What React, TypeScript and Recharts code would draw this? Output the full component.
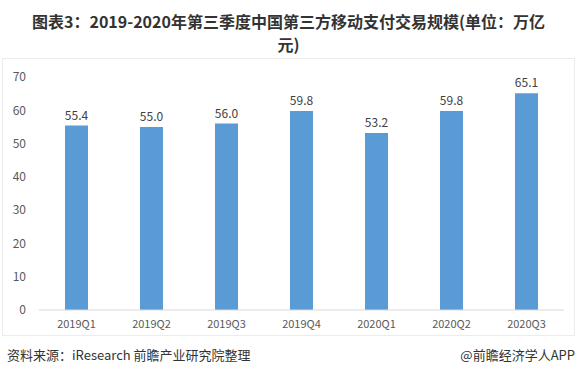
import React from "react";
import { BarChart, Bar, XAxis, YAxis, LabelList } from "recharts";

const categories = ["2019Q1", "2019Q2", "2019Q3", "2019Q4", "2020Q1", "2020Q2", "2020Q3"];
const values = [55.4, 55.0, 56.0, 59.8, 53.2, 59.8, 65.1];
const yTicks = [0, 10, 20, 30, 40, 50, 60, 70];
const titleLines = ["图表3：2019-2020年第三季度中国第三方移动支付交易规模(单位：万亿", "元)"];

const data = categories.map((c, i) => ({ name: c, value: values[i] }));

const font = '"Noto Sans CJK SC", "Noto Sans", sans-serif';

export default function App() {
  return (
    <div style={{ position: "absolute", left: 0, top: 0, width: 577, height: 378, background: "#fff", fontFamily: font, overflow: "hidden" }}>
      {titleLines.map((t, i) => (
        <div
          key={i}
          style={{ position: "absolute", left: 0, top: 11 + i * 23, width: 577, height: 20, textAlign: "center", fontSize: 16, fontWeight: 700, lineHeight: "20px", color: "#333", whiteSpace: "nowrap" }}
        >
          {t}
        </div>
      ))}
      <div style={{ position: "absolute", left: 2, top: 58, width: 573, height: 278, border: "1px solid #ececec", boxSizing: "border-box" }} />
      <div style={{ position: "absolute", left: 0, top: 0 }}>
        <BarChart width={577} height={378} data={data} margin={{ top: 77, right: 13, bottom: 38, left: 0 }}>
          <XAxis
            dataKey="name"
            axisLine={{ stroke: "#d9d9d9" }}
            tickLine={false}
            tickSize={0}
            tickMargin={10}
            height={30}
            tick={{ fill: "#595959", fontSize: 11, fontFamily: font }}
            interval={0}
          />
          <YAxis
            domain={[0, 70]}
            ticks={yTicks}
            axisLine={false}
            tickLine={false}
            tickSize={0}
            tickMargin={13}
            width={39}
            tick={{ fill: "#595959", fontSize: 12, fontFamily: font }}
          />
          <Bar dataKey="value" fill="#5B9BD5" barSize={23} isAnimationActive={false}>
            <LabelList
              dataKey="value"
              position="top"
              offset={6}
              formatter={(v: number) => v.toFixed(1)}
              style={{ fill: "#404040", fontSize: 12, fontFamily: font }}
            />
          </Bar>
        </BarChart>
      </div>
      <div style={{ position: "absolute", left: 7, top: 346, fontSize: 13, color: "#333", lineHeight: "18px" }}>
        资料来源：iResearch 前瞻产业研究院整理
      </div>
      <div style={{ position: "absolute", right: 2, top: 346, fontSize: 13, color: "#333", lineHeight: "18px" }}>
        @前瞻经济学人APP
      </div>
    </div>
  );
}
